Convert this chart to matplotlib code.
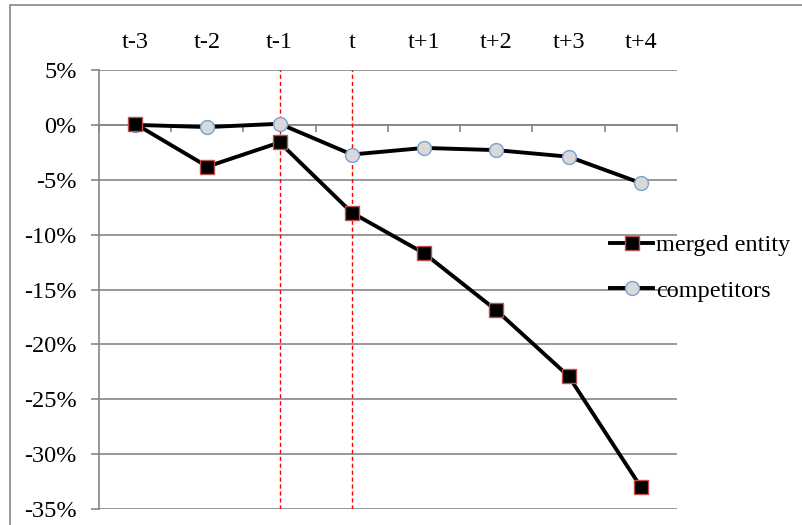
import numpy as np
import matplotlib
matplotlib.use("Agg")
import matplotlib.pyplot as plt
from matplotlib.patches import Rectangle
from matplotlib.ticker import FuncFormatter

periods = ["t-3", "t-2", "t-1", "t", "t+1", "t+2", "t+3", "t+4"]
merged_entity = [0.1, -3.8, -1.6, -8.0, -11.7, -16.9, -22.9, -33.0]
competitors = [0.0, -0.2, 0.1, -2.7, -2.1, -2.3, -2.9, -5.3]
event_periods = ["t-1", "t"]
y_ticks = [5, 0, -5, -10, -15, -20, -25, -30, -35]

plt.rcParams['font.family'] = ['Liberation Serif', 'DejaVu Serif']

fig = plt.figure(figsize=(8.03, 5.25), dpi=100)
# outer chart border
fig.patches.append(Rectangle((10 / 803, -0.1), 1.2, 1 - 5 / 525 + 0.1,
                             transform=fig.transFigure, fill=False,
                             edgecolor='#868686', linewidth=1.2))

ax = fig.add_axes([99 / 803, 1 - 509 / 525, (677 - 99) / 803, (509 - 70) / 525])
x = np.arange(len(periods))
grey = '#868686'
fs = 17.5

ax.plot(x, competitors, color='black', lw=2.8, marker='o', ms=10,
        mfc='#d9d9d9', mec='#7a9fd0', mew=1.0, label='competitors', zorder=4)
ax.plot(x, merged_entity, color='black', lw=2.8, marker='s', ms=9.5,
        mfc='black', mec='#c0504d', mew=1.0, label='merged entity', zorder=5)

for p in event_periods:
    ax.axvline(periods.index(p), color='red', lw=1, ls=(0, (3, 2)), zorder=3)

ax.set_xlim(-0.5, len(periods) - 0.5)
ax.set_ylim(-35, 5)
ax.set_yticks(y_ticks)
ax.yaxis.set_major_formatter(FuncFormatter(lambda v, _: f"{v:.0f}%"))
ax.yaxis.grid(True, color=grey, lw=1.2)
ax.set_axisbelow(True)

ax.set_xticks(x)
ax.set_xticklabels(periods)
ax.set_xticks(np.arange(-0.5, len(periods)), minor=True)
ax.tick_params(axis='x', which='major', length=0, labeltop=True,
               labelbottom=False, pad=12, labelsize=fs)
ax.tick_params(axis='x', which='minor', bottom=True, top=False,
               direction='out', length=5, color=grey, width=1.2)
ax.tick_params(axis='y', length=6, color=grey, width=1.2, labelsize=fs, pad=10)

ax.spines['bottom'].set_position(('data', 0))
ax.spines['bottom'].set_color(grey)
ax.spines['bottom'].set_linewidth(1.2)
ax.spines['left'].set_color(grey)
ax.spines['left'].set_linewidth(1.2)
ax.spines['top'].set_visible(False)
ax.spines['right'].set_visible(False)

handles, labels = ax.get_legend_handles_labels()
fig.legend(handles[::-1], labels[::-1], loc='center left',
           bbox_to_anchor=(600 / 803, 1 - 268 / 525), frameon=False,
           fontsize=fs, handlelength=1.8, handletextpad=0.1,
           labelspacing=0.95, borderaxespad=0)

fig.savefig("out.png", dpi=100)
